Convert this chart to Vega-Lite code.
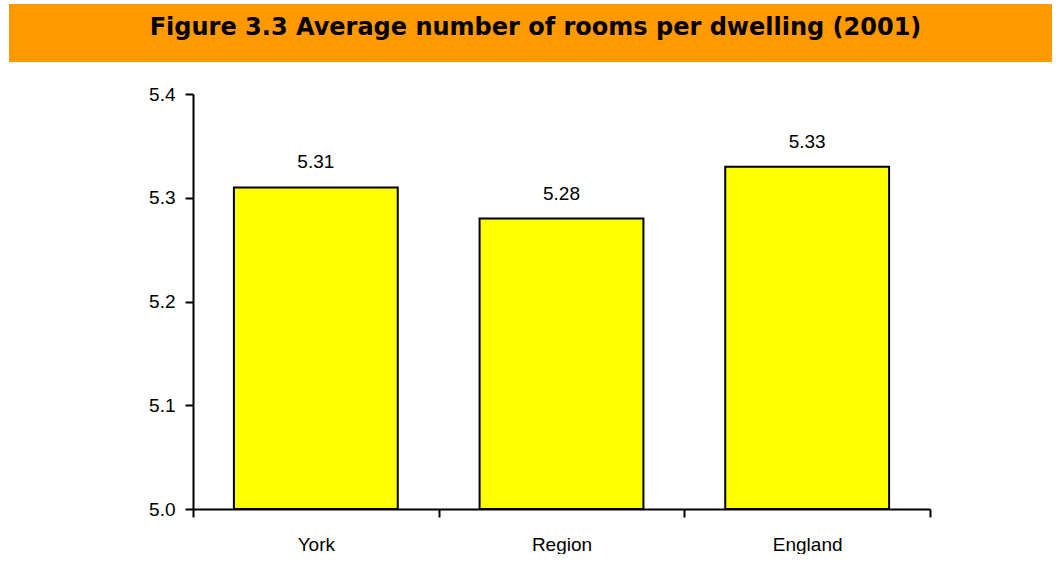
{
  "$schema": "https://vega.github.io/schema/vega-lite/v6.json",
  "background": "white",
  "padding": {"left": 9, "top": 4, "right": 0, "bottom": 0},
  "config": {"view": {"stroke": null}, "font": "Liberation Sans"},
  "spacing": 23,
  "vconcat": [
    {
      "width": 1043,
      "height": 58,
      "view": {"fill": "#FF9900", "stroke": null},
      "data": {"values": [{"title": "Figure 3.3 Average number of rooms per dwelling (2001)"}]},
      "mark": {"type": "text", "font": "DejaVu Sans", "fontWeight": "bold", "fontSize": 24, "baseline": "alphabetic", "dy": 2, "dx": 5, "color": "black"},
      "encoding": {"text": {"field": "title", "type": "nominal"}}
    },
    {
      "width": 921,
      "height": 415,
      "data": {"values": [
        {"area": "York", "rooms": 5.31},
        {"area": "Region", "rooms": 5.28},
        {"area": "England", "rooms": 5.33}
      ]},
      "encoding": {
        "x": {
          "field": "area", "type": "nominal", "sort": null,
          "scale": {"paddingInner": 0, "paddingOuter": 0, "range": [184, 921]},
          "axis": {"title": null, "labelAngle": 0, "tickBand": "extent", "tickSize": 8, "tickWidth": 2, "tickColor": "black", "domainColor": "black", "domainWidth": 2, "labelFontSize": 19, "labelFont": "Liberation Sans", "labelColor": "black", "labelPadding": 18}
        },
        "y": {
          "field": "rooms", "type": "quantitative",
          "scale": {"domain": [5.0, 5.4], "zero": false, "nice": false},
          "axis": {"title": null, "offset": -184, "values": [5.0, 5.1, 5.2, 5.3, 5.4], "format": ".1f", "tickSize": 8, "tickWidth": 2, "tickColor": "black", "domainColor": "black", "domainWidth": 2, "labelFontSize": 19, "labelFont": "Liberation Sans", "labelColor": "black", "labelPadding": 10, "grid": false}
        }
      },
      "layer": [
        {
          "mark": {"type": "bar", "width": {"band": 0.667}, "fill": "#FFFF00", "stroke": "black", "strokeWidth": 2},
          "encoding": {"y2": {"datum": 5.0}}
        },
        {
          "mark": {"type": "text", "baseline": "alphabetic", "dy": -19, "fontSize": 19, "font": "Liberation Sans", "color": "black"},
          "encoding": {"text": {"field": "rooms", "type": "quantitative", "format": ".2f"}}
        }
      ]
    }
  ]
}
